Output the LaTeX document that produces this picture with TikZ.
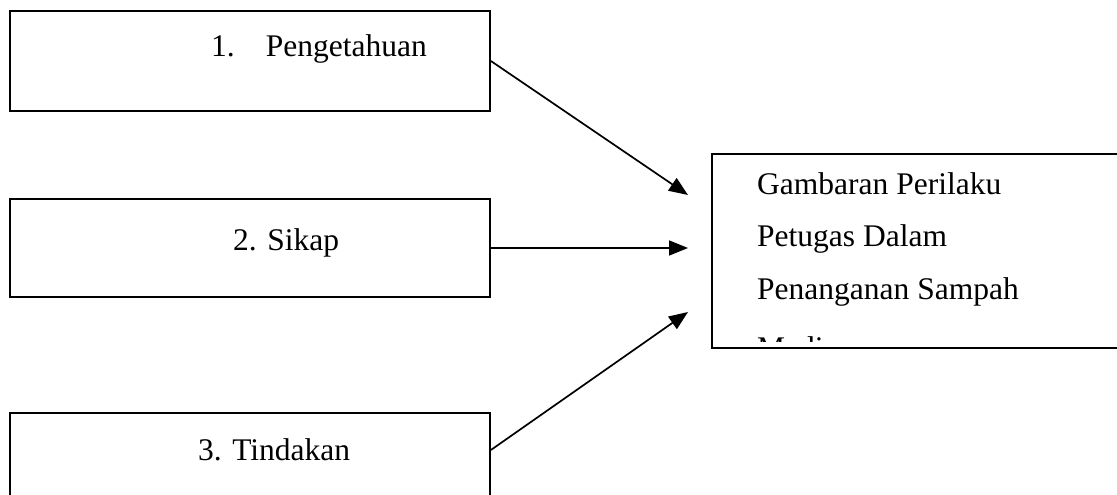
\documentclass[tikz,border=0pt]{standalone}
\usepackage{fontspec}
\setmainfont{Liberation Serif}
\usetikzlibrary{arrows.meta, positioning}

\begin{document}
\begin{tikzpicture}[x=1pt, y=-1pt,
    box/.style={draw, line width=1.8pt, inner sep=0pt},
    txt/.style={anchor=base west, inner sep=0pt, font=\fontsize{31.5}{52}\selectfont},
    link/.style={-{Triangle[length=19pt, width=15pt]}, line width=1.7pt}]
  \useasboundingbox (0,0) rectangle (1117,495);
  \clip (0,0) rectangle (1117,495);
  % the three boxes on the left
  \node[box, minimum width=480pt, minimum height=100pt] (know) at (250,61) {};
  \node[box, minimum width=480pt, minimum height=98pt] (attitude) at (250,248) {};
  \node[box, minimum width=480pt, minimum height=100pt] (action) at (250,463) {};
  % the box on the right
  \node[box, minimum width=413pt, minimum height=194pt] (behaviour) at (918.5,251) {};

  \node[txt] (knowtext) at (211,57) {1.\hspace{31pt}Pengetahuan};
  \node[txt] (attitudetext) at (233,250) {2. Sikap};
  \node[txt] (actiontext) at (198,460) {3. Tindakan};

  \node[txt] (line1) at (757,194) {Gambaran Perilaku};
  \node[txt] (line2) at (757,246.5) {Petugas Dalam};
  \node[txt] (line3) at (757,299) {Penanganan Sampah};
  \begin{scope}
    \clip (712,336) rectangle (1117,341);
    \node[txt] (line4) at (757,358) {Medis};
  \end{scope}

  \coordinate (tip1) at (688,195);
  \coordinate (tip2) at (688,248);
  \coordinate (tip3) at (688,312);
  \draw[link] (know.east) -- (tip1);
  \draw[link] (attitude.east) -- (tip2);
  \draw[link] ([yshift=13pt]action.east) -- (tip3);
\end{tikzpicture}
\end{document}
